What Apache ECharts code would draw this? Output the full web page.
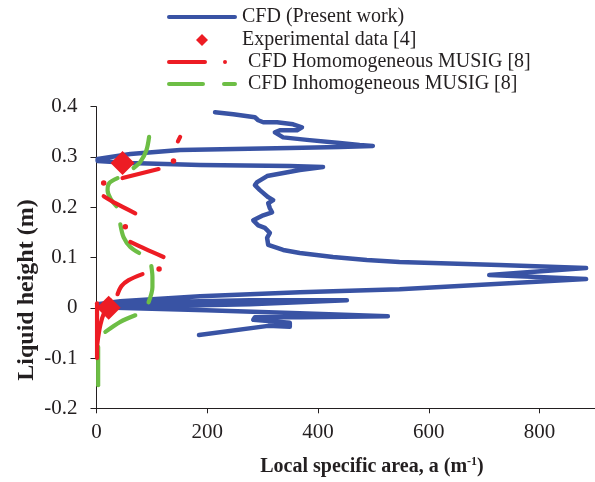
<!DOCTYPE html>
<html>
<head>
<meta charset="utf-8">
<script src="https://cdn.jsdelivr.net/npm/echarts@6/dist/echarts.min.js"></script>
<style>html,body{margin:0;padding:0;background:#fff}#c{width:595px;height:482px}</style>
</head>
<body>
<div id="c"></div>
<script>
// ---- data (a in m^-1, liquid height in m) ----
const xTicks = [0, 200, 400, 600, 800];
const yTicks = [-0.2, -0.1, 0, 0.1, 0.2, 0.3, 0.4];

const cfdPresent = [
  [214,0.389],[247,0.385],[286,0.379],[292,0.373],[301,0.369],[326,0.369],[355,0.365],[371,0.359],
  [362,0.353],[331,0.353],[322,0.349],[337,0.339],[380,0.334],[439,0.328],[475,0.324],[499,0.322],
  [439,0.320],[349,0.318],[151,0.314],[61,0.306],[2,0.296],[2,0.292],[61,0.288],[187,0.284],
  [349,0.282],[409,0.280],[367,0.274],[308,0.262],[290,0.250],[286,0.244],[295,0.234],[310,0.220],
  [319,0.214],[310,0.208],[313,0.198],[317,0.190],[301,0.184],[283,0.174],[292,0.164],[304,0.159],
  [313,0.149],[308,0.139],[310,0.125],[337,0.115],[367,0.109],[427,0.101],[488,0.095],[547,0.091],
  [727,0.085],[884,0.079],[709,0.065],[884,0.057],[745,0.049],[547,0.037],[367,0.031],[187,0.023],
  [43,0.013],[2,0.007],[97,0.011],[277,0.015],[452,0.015],[277,0.007],[97,0.003],[2,0.001],
  [198,-0.005],[367,-0.011],[526,-0.017],[367,-0.019],[286,-0.019],[283,-0.024],[349,-0.030],
  [349,-0.038],[310,-0.036],[185,-0.054]
];

const experimental = [[47,0.288],[22,0.0]];

const homoDashes = [
  [[151,0.340],[147,0.331]],
  [[112,0.276],[47,0.258]],
  [[13,0.222],[34,0.208],[70,0.188]],
  [[61,0.131],[88,0.117],[121,0.101]],
  [[83,0.067],[58,0.055],[45,0.043],[38,0.027]],
  [[25,0.015],[14,-0.009],[7,-0.034],[1,-0.074]],
  [[1,0.009],[1,-0.100]]
];
const homoDots = [[139,0.292],[13,0.248],[52,0.161],[113,0.077]];

const inhomoDashes = [
  [[95,0.340],[90,0.313],[79,0.290],[67,0.278]],
  [[38,0.258],[23,0.248],[20,0.234],[25,0.218],[36,0.202]],
  [[43,0.166],[49,0.140],[61,0.121],[77,0.109]],
  [[99,0.083],[101,0.061],[101,0.041],[94,0.011]],
  [[70,-0.015],[43,-0.028],[16,-0.048]],
  [[3,-0.078],[3,-0.154]]
];

const names = ['CFD (Present work)', 'Experimental data [4]', 'CFD Homomogeneous MUSIG [8]', 'CFD Inhomogeneous MUSIG [8]'];

// ---- styles ----
const BLUE = '#3953a4', RED = '#ed1c24', GREEN = '#6dbe45', INK = '#231f20';
const FONT = '"Liberation Serif", "Times New Roman", serif';

const chart = echarts.init(document.getElementById('c'), null, {renderer: 'canvas'});

const series = [];
series.push({
  name: names[0], type: 'line', data: cfdPresent, symbol: 'none', z: 2,
  lineStyle: {color: BLUE, width: 4.5, cap: 'round', join: 'round'}, itemStyle: {color: BLUE}
});
inhomoDashes.forEach(seg => series.push({
  name: names[3], type: 'line', data: seg, symbol: 'none', smooth: 0.3, z: 3,
  lineStyle: {color: GREEN, width: 4.2, cap: 'round', join: 'round'}, itemStyle: {color: GREEN}
}));
homoDashes.forEach(seg => series.push({
  name: names[2], type: 'line', data: seg, symbol: 'none', smooth: 0.3, z: 4,
  lineStyle: {color: RED, width: 4.2, cap: 'round', join: 'round'}, itemStyle: {color: RED}
}));
series.push({
  name: names[2], type: 'scatter', data: homoDots, symbol: 'circle', symbolSize: 5.5, z: 4,
  itemStyle: {color: RED, opacity: 1}
});
series.push({
  name: names[1], type: 'scatter', data: experimental, symbol: 'diamond', symbolSize: 24, z: 5,
  itemStyle: {color: RED, opacity: 1}
});

function mkLegend(name, left, top, icon, w, h, color, padLeft) {
  return {
    data: [name], left: left, top: top, orient: 'vertical', padding: 0,
    icon: icon, itemWidth: w, itemHeight: h, itemGap: 0, selectedMode: false,
    textStyle: {color: INK, fontFamily: FONT, fontSize: 20, padding: [0, 0, 0, padLeft]},
    itemStyle: {color: color, borderWidth: 0, opacity: 1}
  };
}

chart.setOption({
  animation: false,
  backgroundColor: '#fff',
  grid: {left: 96.5, top: 106.7, width: 499.5, height: 301.6, containLabel: false},
  legend: [
    mkLegend(names[0], 167, 7, 'path://M2,0H68A2,2 0 0 1 68,4H2A2,2 0 0 1 2,0Z', 70, 4, BLUE, 0),
    mkLegend(names[1], 196, 30, 'path://M6,0L12,6L6,12L0,6Z', 12, 12, RED, 29),
    mkLegend(names[2], 167, 52, 'path://M2,0H38A2,2 0 0 1 38,4H2A2,2 0 0 1 2,0Z M58,0A2,2 0 1 1 58,4A2,2 0 1 1 58,0Z', 60, 4, RED, 16),
    mkLegend(names[3], 167, 74, 'path://M2,0H36A2,2 0 0 1 36,4H2A2,2 0 0 1 2,0Z M57,0H68A2,2 0 0 1 68,4H57A2,2 0 0 1 57,0Z', 70, 4, GREEN, 6)
  ],
  xAxis: {
    type: 'value', min: 0, max: 900, interval: 200,
    axisLine: {show: true, onZero: false, lineStyle: {color: INK, width: 1}},
    axisTick: {show: true, inside: false, length: 5, lineStyle: {color: INK}},
    axisLabel: {color: INK, fontFamily: FONT, fontSize: 21, margin: 14, showMaxLabel: false,
      formatter: v => xTicks.indexOf(v) >= 0 ? String(v) : ''},
    splitLine: {show: false}
  },
  yAxis: {
    type: 'value', min: -0.2, max: 0.4, interval: 0.1,
    axisLine: {show: true, onZero: false, lineStyle: {color: INK, width: 1}},
    axisTick: {show: true, inside: false, length: 6, lineStyle: {color: INK}},
    axisLabel: {color: INK, fontFamily: FONT, fontSize: 21, margin: 19,
      formatter: v => { const t = yTicks.find(k => Math.abs(k - v) < 1e-9); return t === undefined ? '' : String(t); }},
    splitLine: {show: false}
  },
  graphic: [
    {
      type: 'text', x: 27, y: 290, rotation: Math.PI / 2,
      style: {text: 'Liquid height (m)', fill: INK, font: 'bold 24px ' + FONT, align: 'center', verticalAlign: 'middle'}
    },
    {
      type: 'text', x: 372, y: 467,
      style: {
        text: '{b|Local specific area, a (m}{s|-1}{b|)}', align: 'center', verticalAlign: 'middle',
        rich: {
          b: {fill: INK, fontFamily: FONT, fontWeight: 'bold', fontSize: 20, lineHeight: 22},
          s: {fill: INK, fontFamily: FONT, fontWeight: 'bold', fontSize: 12, lineHeight: 12, verticalAlign: 'top'}
        }
      }
    }
  ],
  series: series
});
</script>
</body>
</html>
